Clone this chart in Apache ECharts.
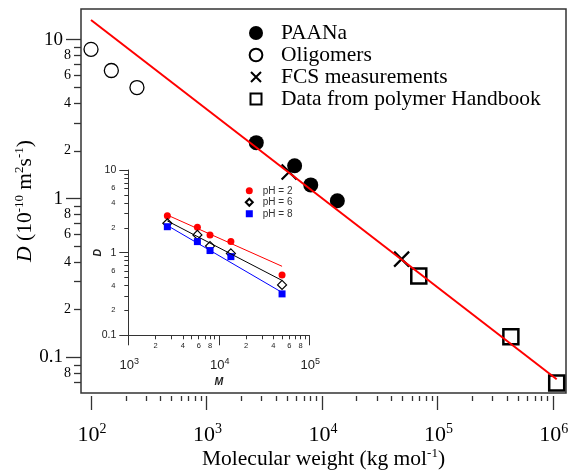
<!DOCTYPE html>
<html><head><meta charset="utf-8">
<script src="https://cdn.jsdelivr.net/npm/echarts@6/dist/echarts.min.js"></script>
<style>html,body{margin:0;padding:0;background:#fff}#c{width:568px;height:471px}</style>
</head><body><div id="c"></div>
<script>
// ---- main plot data ----
const paanaM = [2700, 5800, 8000, 13600];
const paanaD = [2.25, 1.61, 1.22, 0.97];
const oligoM = [100, 150, 250];
const oligoD = [8.7, 6.4, 5.0];
const fcsM = [5200, 49000];
const fcsD = [1.47, 0.416];
const handbookM = [69000, 433000, 1080000];
const handbookD = [0.326, 0.135, 0.069];
const fitM = [100, 1080000];
const fitD = [13.3, 0.073];
// ---- inset data ----
const insetM = [2700, 5800, 8000, 13600, 50000];
const pH2D = [2.80, 2.03, 1.64, 1.36, 0.537];
const pH6D = [2.27, 1.64, 1.20, 0.98, 0.407];
const pH8D = [2.06, 1.36, 1.06, 0.895, 0.317];
const fitInsetM = [2700, 50000];
const fit2D = [2.85, 0.684];
const fit6D = [2.42, 0.461];
const fit8D = [2.13, 0.330];
// ---- ticks / labels ----
const mantissas = [2, 3, 4, 5, 6, 7, 8, 9];
const xMajorTicks = [100, 1000, 10000, 100000, 1000000];
const xMajorExp = ['2', '3', '4', '5', '6'];
const xMinorDecades = [100, 1000, 10000, 100000];
const yMajorTicks = [0.1, 1, 10];
const yMajorLabels = ['0.1', '1', '10'];
const yMinorTicks = [0.07, 0.08, 0.09, 0.2, 0.3, 0.4, 0.5, 0.6, 0.7, 0.8, 0.9, 2, 3, 4, 5, 6, 7, 8, 9];
const yMinorLabelVals = [0.08, 0.2, 0.4, 0.6, 0.8, 2, 4, 6, 8];
const insetXMajor = [1000, 10000, 100000];
const insetXExp = ['3', '4', '5'];
const insetXMinorDecades = [1000, 10000];
const insetXMinorLabelVals = [2000, 4000, 6000, 8000, 20000, 40000, 60000, 80000];
const insetYMajor = [0.1, 1, 10];
const insetYMajorLabels = ['0.1', '1', '10'];
const insetYMinorDecades = [0.1, 1];
const insetYMinorLabelVals = [0.2, 0.4, 0.6, 2, 4, 6];

function minorOf(decades) {
  const out = [];
  decades.forEach(d => mantissas.forEach(m => out.push(+(d * m).toPrecision(6))));
  return out;
}
function idxOf(arr, v) {
  let bi = 0, bd = Infinity;
  arr.forEach((a, i) => { const d = Math.abs(Math.log10(a) - Math.log10(v)); if (d < bd) { bd = d; bi = i; } });
  return bi;
}
function mant(v) {
  const e = Math.floor(Math.log10(v) + 1e-9);
  return String(Math.round(v / Math.pow(10, e)));
}
const pairs = (xs, ys) => xs.map((x, i) => [x, ys[i]]);

const SERIF = 'Liberation Serif';
const SANS = 'Liberation Sans';
const AX = '#333';

const chart = echarts.init(document.getElementById('c'), null, {renderer: 'canvas'});
const mainX = {min: 81.9, max: 1.3e6};
const mainY = {min: 0.0598, max: 15.6};

const option = {
  animation: false,
  backgroundColor: '#fff',
  grid: [
    {left: 81, top: 9, right: 2, bottom: 78, show: true, borderColor: AX, borderWidth: 1.5, backgroundColor: 'transparent',
     containLabel: false, outerBoundsMode: 'none'},
    {left: 128.3, top: 170, width: 181, height: 165.3, show: false, containLabel: false, outerBoundsMode: 'none'}
  ],
  xAxis: [
    {type: 'log', gridIndex: 0, position: 'bottom', offset: 3, min: mainX.min, max: mainX.max,
     axisLine: {show: false, onZero: false}, splitLine: {show: false},
     axisTick: {show: true, length: 14, lineStyle: {color: AX, width: 1.3}, customValues: xMajorTicks},
     axisLabel: {customValues: xMajorTicks, margin: 26, color: '#000',
       formatter: v => '{sp| }{b|10}{s|' + xMajorExp[idxOf(xMajorTicks, v)] + '}',
       rich: {sp: {width: 2, fontSize: 14}, b: {fontFamily: SERIF, fontSize: 22, color: '#000'},
              s: {fontFamily: SERIF, fontSize: 14, color: '#000', padding: [0, 0, 12, 0]}}},
     name: '{n|Molecular weight (kg mol}{s|-1}{n|)}', nameLocation: 'middle', nameGap: 51, nameMoveOverlap: false,
     nameTextStyle: {rich: {n: {fontFamily: SERIF, fontSize: 21.5, color: '#000'},
                           s: {fontFamily: SERIF, fontSize: 13, color: '#000', padding: [0, 0, 11, 0]}}}},
    {type: 'log', gridIndex: 0, position: 'bottom', offset: 3, min: mainX.min, max: mainX.max,
     axisLine: {show: false, onZero: false}, splitLine: {show: false},
     axisTick: {show: true, length: 5, lineStyle: {color: AX, width: 1.3}, customValues: minorOf(xMinorDecades)},
     axisLabel: {show: false}},
    {type: 'log', gridIndex: 1, position: 'bottom', min: 1000, max: 100000,
     axisLine: {show: true, onZero: false, lineStyle: {color: AX, width: 1}}, splitLine: {show: false},
     axisTick: {show: true, length: 10, lineStyle: {color: AX, width: 1}, customValues: insetXMajor},
     axisLabel: {customValues: insetXMajor, margin: 22, color: '#222',
       formatter: v => '{sp| }{b|10}{s|' + insetXExp[idxOf(insetXMajor, v)] + '}',
       rich: {sp: {width: 2, fontSize: 8}, b: {fontFamily: SANS, fontSize: 13, color: '#222'},
              s: {fontFamily: SANS, fontSize: 9, color: '#222', padding: [0, 0, 8, 0]}}},
     name: 'M', nameLocation: 'middle', nameGap: 41,
     nameTextStyle: {fontFamily: SANS, fontSize: 10.5, fontWeight: 'bold', fontStyle: 'italic', color: '#222'}},
    {type: 'log', gridIndex: 1, position: 'bottom', min: 1000, max: 100000,
     axisLine: {show: false, onZero: false}, splitLine: {show: false},
     axisTick: {show: true, length: 4, lineStyle: {color: AX, width: 1}, customValues: minorOf(insetXMinorDecades)},
     axisLabel: {customValues: insetXMinorLabelVals, margin: 7, color: '#222', fontFamily: SANS, fontSize: 7.5,
       formatter: v => mant(v)}}
  ],
  yAxis: [
    {type: 'log', gridIndex: 0, position: 'left', min: mainY.min, max: mainY.max,
     axisLine: {show: false, onZero: false}, splitLine: {show: false},
     axisTick: {show: true, length: 15, lineStyle: {color: AX, width: 1.3}, customValues: yMajorTicks},
     axisLabel: {customValues: yMajorTicks, margin: 18, color: '#000', fontFamily: SERIF, fontSize: 19,
       formatter: v => yMajorLabels[idxOf(yMajorTicks, v)]},
     name: '{i|D}{n| (10}{s|-10}{n| m}{s|2}{n|s}{s|-1}{n|)}', nameLocation: 'middle', nameGap: 44, nameRotate: 90,
     nameMoveOverlap: false,
     nameTextStyle: {rich: {i: {fontFamily: SERIF, fontSize: 21.5, fontStyle: 'italic', color: '#000'},
                           n: {fontFamily: SERIF, fontSize: 21.5, color: '#000'},
                           s: {fontFamily: SERIF, fontSize: 13, color: '#000', padding: [0, 0, 11, 0]}}}},
    {type: 'log', gridIndex: 0, position: 'left', min: mainY.min, max: mainY.max,
     axisLine: {show: false, onZero: false}, splitLine: {show: false},
     axisTick: {show: true, length: 7, lineStyle: {color: AX, width: 1.3}, customValues: yMinorTicks},
     axisLabel: {customValues: yMinorLabelVals, margin: 10, color: '#000', fontFamily: SERIF, fontSize: 14,
       formatter: v => mant(v)}},
    {type: 'log', gridIndex: 1, position: 'left', min: 0.1, max: 10,
     axisLine: {show: true, onZero: false, lineStyle: {color: AX, width: 1}}, splitLine: {show: false},
     axisTick: {show: true, length: 9, lineStyle: {color: AX, width: 1}, customValues: insetYMajor},
     axisLabel: {customValues: insetYMajor, margin: 12, color: '#222', fontFamily: SANS, fontSize: 10.5,
       formatter: v => insetYMajorLabels[idxOf(insetYMajor, v)]},
     name: 'D', nameLocation: 'middle', nameGap: 25, nameRotate: 90, nameMoveOverlap: false,
     nameTextStyle: {fontFamily: SANS, fontSize: 10.5, fontWeight: 'bold', fontStyle: 'italic', color: '#222'}},
    {type: 'log', gridIndex: 1, position: 'left', min: 0.1, max: 10,
     axisLine: {show: false, onZero: false}, splitLine: {show: false},
     axisTick: {show: true, length: 4, lineStyle: {color: AX, width: 1}, customValues: minorOf(insetYMinorDecades)},
     axisLabel: {customValues: insetYMinorLabelVals, margin: 13, color: '#222', fontFamily: SANS, fontSize: 7.5,
       formatter: v => mant(v)}}
  ],
  legend: [
    {orient: 'vertical', left: 243, top: 17, itemWidth: 14, itemHeight: 14, itemGap: 0,
     data: [
       {name: 'PAANa'},
       {name: 'Oligomers', icon: 'path://M-0.6,-0.6M12.6,12.6M0,6A6,6 0 1 1 12,6A6,6 0 1 1 0,6Z'},
       {name: 'FCS measurements', icon: 'path://M-2,-2M12,12M0,0L10,10M10,0L0,10'},
       {name: 'Data from polymer Handbook', icon: 'path://M-1.5,-1.5M12.5,12.5M0,0L11,0L11,11L0,11Z'}
     ],
     textStyle: {fontFamily: SERIF, fontSize: 21.5, color: '#000', lineHeight: 22, padding: [0, 0, 0, 13]}},
    {orient: 'vertical', left: 239.8, top: 180, itemWidth: 7, itemHeight: 7, itemGap: 0,
     data: ['pH = 2', 'pH = 6', 'pH = 8'],
     textStyle: {fontFamily: SANS, fontSize: 10, color: '#333', lineHeight: 11.5, padding: [0, 0, 0, 5]}}
  ],
  series: [
    {name: 'PAANa', type: 'scatter', xAxisIndex: 0, yAxisIndex: 0, data: pairs(paanaM, paanaD),
     symbol: 'circle', symbolSize: 15, itemStyle: {color: '#000', opacity: 1}},
    {name: 'Oligomers', type: 'scatter', xAxisIndex: 0, yAxisIndex: 0, data: pairs(oligoM, oligoD),
     symbol: 'circle', symbolSize: 14, itemStyle: {color: '#fff', borderColor: '#000', borderWidth: 1.3, opacity: 1}},
    {name: 'FCS measurements', type: 'scatter', xAxisIndex: 0, yAxisIndex: 0, data: pairs(fcsM, fcsD),
     symbol: 'path://M0,0L10,10M10,0L0,10', symbolSize: 15, itemStyle: {color: '#000', borderColor: '#000', borderWidth: 2.2, opacity: 1}},
    {name: 'Data from polymer Handbook', type: 'scatter', xAxisIndex: 0, yAxisIndex: 0, data: pairs(handbookM, handbookD),
     symbol: 'rect', symbolSize: 15, itemStyle: {color: 'rgba(0,0,0,0)', borderColor: '#000', borderWidth: 2.5, opacity: 1}},
    {name: 'fit', type: 'line', xAxisIndex: 0, yAxisIndex: 0, data: pairs(fitM, fitD),
     showSymbol: false, symbol: 'none', lineStyle: {color: '#ff0000', width: 2}},
    {name: 'fit2', type: 'line', xAxisIndex: 2, yAxisIndex: 2, data: pairs(fitInsetM, fit2D),
     symbol: 'none', lineStyle: {color: '#ff0000', width: 1}},
    {name: 'fit6', type: 'line', xAxisIndex: 2, yAxisIndex: 2, data: pairs(fitInsetM, fit6D),
     symbol: 'none', lineStyle: {color: '#000', width: 1}},
    {name: 'fit8', type: 'line', xAxisIndex: 2, yAxisIndex: 2, data: pairs(fitInsetM, fit8D),
     symbol: 'none', lineStyle: {color: '#0000ff', width: 1}},
    {name: 'pH = 2', type: 'scatter', xAxisIndex: 2, yAxisIndex: 2, data: pairs(insetM, pH2D),
     symbol: 'circle', symbolSize: 7, itemStyle: {color: '#ff0000', opacity: 1}},
    {name: 'pH = 6', type: 'scatter', xAxisIndex: 2, yAxisIndex: 2, data: pairs(insetM, pH6D),
     symbol: 'diamond', symbolSize: 9, itemStyle: {color: '#fff', borderColor: '#000', borderWidth: 1.2, opacity: 1}},
    {name: 'pH = 8', type: 'scatter', xAxisIndex: 2, yAxisIndex: 2, data: pairs(insetM, pH8D),
     symbol: 'rect', symbolSize: 7, itemStyle: {color: '#0000ff', opacity: 1}}
  ]
};
chart.setOption(option);
</script>
</body></html>
